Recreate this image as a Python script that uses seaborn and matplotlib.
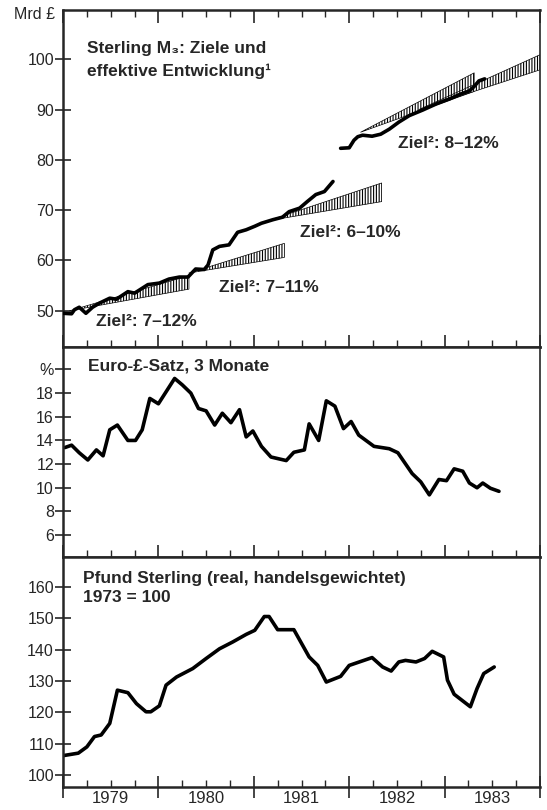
import matplotlib
matplotlib.use('Agg')
import matplotlib.pyplot as plt
import seaborn as sns
from matplotlib.ticker import FixedLocator, FixedFormatter

# Sterling M3 (Mrd £) - zwei Abschnitte (Bruch Ende 1981)
m3_t1 = [1979.00, 1979.09, 1979.12, 1979.17, 1979.24, 1979.31, 1979.38, 1979.49,
         1979.56, 1979.68, 1979.75, 1979.89, 1980.01, 1980.11, 1980.22, 1980.31,
         1980.39, 1980.48, 1980.52, 1980.57, 1980.64, 1980.74, 1980.83, 1980.92,
         1981.01, 1981.08, 1981.20, 1981.30, 1981.37, 1981.48, 1981.56, 1981.65,
         1981.74, 1981.83]
m3_v1 = [49.5, 49.4, 50.2, 50.7, 49.5, 50.7, 51.5, 52.5,
         52.3, 53.8, 53.5, 55.2, 55.5, 56.3, 56.7, 56.7,
         58.3, 58.2, 59.1, 62.1, 62.8, 63.1, 65.6, 66.1,
         66.8, 67.4, 68.1, 68.6, 69.7, 70.4, 71.7, 73.1,
         73.7, 75.7]
m3_t2 = [1981.91, 1982.00, 1982.05, 1982.09, 1982.14, 1982.24, 1982.33, 1982.42,
         1982.52, 1982.63, 1982.77, 1982.91, 1983.05, 1983.17, 1983.26, 1983.31,
         1983.36, 1983.42]
m3_v2 = [82.3, 82.4, 83.9, 84.6, 84.9, 84.7, 85.1, 86.1,
         87.5, 88.8, 89.9, 91.1, 92.1, 93.1, 93.7, 94.6,
         95.7, 96.1]

# Zielkorridore: Beginn, Basiswert, Ende, untere / obere Grenze am Ende
ziel_beginn = [1979.07, 1980.32, 1981.15, 1982.12, 1982.73]
ziel_basis = [50.0, 57.5, 67.9, 85.5, 90.0]
ziel_ende = [1980.32, 1981.32, 1982.34, 1983.31, 1984.0]
ziel_unten = [54.3, 60.6, 71.7, 93.6, 97.9]
ziel_oben = [57.0, 63.4, 75.4, 97.3, 100.9]
ziel_texte = ['Ziel²: 7–12%', 'Ziel²: 7–11%', 'Ziel²: 6–10%', 'Ziel²: 8–12%']

# Euro-£-Satz, 3 Monate (%)
zins_t = [1979.02, 1979.09, 1979.17, 1979.26, 1979.35, 1979.42, 1979.49, 1979.57,
          1979.68, 1979.76, 1979.83, 1979.91, 1980.00, 1980.17, 1980.25, 1980.34,
          1980.42, 1980.50, 1980.59, 1980.67, 1980.76, 1980.85, 1980.92, 1980.99,
          1981.08, 1981.18, 1981.34, 1981.42, 1981.53, 1981.58, 1981.68, 1981.76,
          1981.85, 1981.94, 1982.02, 1982.10, 1982.26, 1982.42, 1982.51, 1982.66,
          1982.75, 1982.84, 1982.94, 1983.02, 1983.10, 1983.19, 1983.26, 1983.34,
          1983.40, 1983.48, 1983.57]
zins_v = [13.4, 13.6, 12.96, 12.35, 13.2, 12.7, 14.9, 15.3,
          14.0, 14.0, 14.9, 17.55, 17.1, 19.24, 18.7, 18.0,
          16.7, 16.5, 15.3, 16.3, 15.5, 16.6, 14.3, 14.8,
          13.5, 12.6, 12.3, 13.0, 13.2, 15.4, 14.0, 17.35,
          16.9, 15.0, 15.6, 14.45, 13.5, 13.3, 12.96, 11.2,
          10.5, 9.4, 10.7, 10.6, 11.6, 11.4, 10.4, 10.0,
          10.4, 9.96, 9.7]

# Pfund Sterling real, handelsgewichtet (1973 = 100)
pfund_t = [1979.00, 1979.16, 1979.25, 1979.33, 1979.40, 1979.49, 1979.57, 1979.68,
           1979.77, 1979.87, 1979.92, 1980.01, 1980.08, 1980.19, 1980.36, 1980.50,
           1980.64, 1980.78, 1980.92, 1981.01, 1981.11, 1981.16, 1981.25, 1981.42,
           1981.58, 1981.67, 1981.76, 1981.91, 1982.00, 1982.24, 1982.35, 1982.44,
           1982.52, 1982.59, 1982.70, 1982.79, 1982.87, 1982.99, 1983.03, 1983.10,
           1983.27, 1983.34, 1983.41, 1983.52]
pfund_v = [106.2, 107.0, 109.0, 112.3, 112.8, 116.5, 127.1, 126.3,
           122.8, 120.2, 120.2, 122.1, 128.7, 131.3, 134.0, 137.2,
           140.3, 142.5, 144.9, 146.2, 150.6, 150.6, 146.4, 146.4,
           137.7, 135.0, 129.7, 131.5, 135.0, 137.5, 134.5, 133.2,
           136.1, 136.6, 136.1, 137.2, 139.5, 137.7, 130.3, 125.8,
           121.8, 127.6, 132.4, 134.5]

jahre = ['1979', '1980', '1981', '1982', '1983']

sns.set_style('ticks')
plt.rcParams['font.family'] = ['Liberation Sans', 'DejaVu Sans']
plt.rcParams['hatch.linewidth'] = 0.8

fig, axes = plt.subplots(3, 1, figsize=(5.47, 8.10), dpi=100, sharex=True,
                         gridspec_kw={'height_ratios': [337, 210, 230], 'hspace': 0})
fig.subplots_adjust(left=0.1152, right=0.9872, top=0.9877, bottom=0.0284)
ax1, ax2, ax3 = axes

linie = dict(color='black', linewidth=2.6, estimator=None, legend=False)
titel = dict(fontsize=12.5, fontweight='bold', va='baseline', ha='left')

# --- Panel 1: Sterling M3 ---
for t0, b, t1, lo, hi in zip(ziel_beginn, ziel_basis, ziel_ende, ziel_unten, ziel_oben):
    ax1.fill_between([t0, t1], [b, lo], [b, hi], facecolor='white', edgecolor='black',
                     hatch='||||||', linewidth=0.5, zorder=2)
sns.lineplot(x=m3_t1, y=m3_v1, ax=ax1, zorder=3, **linie)
sns.lineplot(x=m3_t2, y=m3_v2, ax=ax1, zorder=3, **linie)

ax1.text(1979.25, 101.3, 'Sterling M₃: Ziele und', **titel)
ax1.text(1979.25, 96.7, 'effektive Entwicklung¹', **titel)
for (x, y), s in zip([(1979.35, 46.9), (1980.64, 53.8), (1981.48, 64.65), (1982.51, 82.3)],
                     ziel_texte):
    ax1.text(x, y, s, **titel)
ax1.text(-0.017, 0.988, 'Mrd £', transform=ax1.transAxes, ha='right', va='center',
         fontsize=11.5)
ax1.set_ylim(42.8, 109.8)
ax1.set_yticks(range(50, 101, 10))

# --- Panel 2: Euro-£-Satz ---
sns.lineplot(x=zins_t, y=zins_v, ax=ax2, **linie)
ax2.text(1979.26, 19.88, 'Euro-£-Satz, 3 Monate', **titel)
ax2.set_ylim(4.15, 21.9)
ax2.set_yticks(range(6, 21, 2))
ax2.set_yticklabels([str(v) for v in range(6, 19, 2)] + ['%'])

# --- Panel 3: Pfund Sterling ---
sns.lineplot(x=pfund_t, y=pfund_v, ax=ax3, **linie)
ax3.text(1979.21, 161.2, 'Pfund Sterling (real, handelsgewichtet)', **titel)
ax3.text(1979.21, 155.1, '1973 = 100', **titel)
ax3.set_ylim(96.2, 169.6)
ax3.set_yticks(range(100, 161, 10))

# --- Achsen ---
ax3.set_xlim(1979, 1984)
ax3.xaxis.set_major_locator(FixedLocator([1979, 1980, 1981, 1982, 1983, 1984]))
quartale = [1979 + q / 4 for q in range(1, 20) if q % 4 != 0]
ax3.xaxis.set_minor_locator(FixedLocator(quartale))
ax3.xaxis.set_minor_formatter(FixedFormatter(
    [jahre[int(q - 1979)] if abs(q % 1 - 0.5) < 0.01 else '' for q in quartale]))
ax3.xaxis.set_major_formatter(FixedFormatter([''] * 6))

for ax in axes:
    ax.set_xlabel('')
    ax.set_ylabel('')
    for side in ['left', 'top', 'bottom']:
        ax.spines[side].set_linewidth(1.8)
    ax.spines['right'].set_linewidth(1.2)
    ax.tick_params(axis='y', direction='inout', length=11, width=1.2,
                   labelsize=11.5, pad=1, right=False)
    ax.tick_params(axis='x', which='major', direction='in', length=9, width=1.2)
    ax.tick_params(axis='x', which='minor', direction='in', length=5, width=1.0,
                   labelsize=12, pad=3)

ax1.tick_params(axis='x', which='both', top=True, labelbottom=False)
ax2.tick_params(axis='x', which='both', labelbottom=False)
ax3.tick_params(axis='x', which='major', direction='inout', length=16)

plt.savefig('out.png', dpi=100)
